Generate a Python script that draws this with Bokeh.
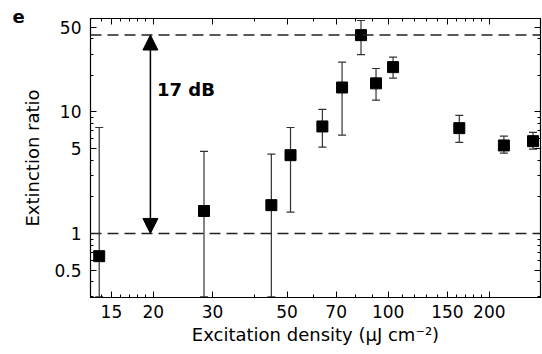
from bokeh.plotting import figure
from bokeh.models import (LogAxis, FixedTicker, Whisker, TeeHead, Span, Arrow,
                          NormalHead, Label, ColumnDataSource, Range1d)
from bokeh.embed import file_html
from bokeh.resources import INLINE

# Data
density = [13.8, 28.3, 44.9, 51.2, 63.7, 72.9, 83.0, 92.0, 103.4, 162.8, 221.0, 269.8]
ratio = [0.65, 1.53, 1.71, 4.41, 7.6, 15.9, 42.9, 17.2, 23.4, 7.36, 5.3, 5.75]
upper = [7.45, 4.73, 4.5, 7.45, 10.5, 25.7, 56.6, 22.8, 28.3, 9.36, 6.32, 6.78]
lower = [0.3, 0.3, 0.3, 1.5, 5.13, 6.45, 29.7, 12.5, 19.0, 5.61, 4.58, 4.94]

x_major = [15, 20, 30, 50, 70, 100, 150, 200]
x_minor = [13, 14, 16, 17, 18, 19, 40, 60, 80, 90, 110, 120, 130, 140, 160, 170, 180, 190, 300]
y_major = [0.5, 1, 5, 10, 50]
y_minor = [0.3, 0.4, 0.6, 0.7, 0.8, 0.9, 2, 3, 4, 6, 7, 8, 9, 20, 30, 40]

ref_low = 1.0
ref_high = 43.0
arrow_x = 19.6
db_label = "17 dB"
db_x, db_y = 20.5, 15.4
panel_label = "e"

FONT = "DejaVu Sans"

src = ColumnDataSource(dict(x=density, y=ratio, up=upper, lo=lower))

p = figure(width=542, height=354, x_axis_type="log", y_axis_type="log",
           x_range=Range1d(13.0, 284.0), y_range=Range1d(0.297, 58.8),
           output_backend="svg", toolbar_location=None,
           min_border_left=90, min_border_right=2, min_border_top=18, min_border_bottom=57)
p.xgrid.visible = False
p.ygrid.visible = False
p.outline_line_color = "black"
p.outline_line_width = 1.2
p.background_fill_color = "white"
p.border_fill_color = "white"

p.title.text = panel_label
p.title.align = "left"
p.title.offset = -78
p.title.standoff = -8
p.title.text_font = FONT
p.title.text_font_size = "18px"
p.title.text_font_style = "bold"
p.title.text_color = "black"
p.title.text_line_height = 0.8

def style_axis(ax, major, minor, labels=True):
    ax.ticker = FixedTicker(ticks=major, minor_ticks=minor)
    ax.major_tick_in = 6
    ax.major_tick_out = 0
    ax.minor_tick_in = 3
    ax.minor_tick_out = 0
    ax.axis_line_color = "black"
    ax.major_tick_line_color = "black"
    ax.minor_tick_line_color = "black"
    ax.major_label_text_font = FONT
    ax.major_label_text_font_size = "17px" if labels else "0px"
    ax.major_label_text_color = "black"
    ax.axis_label_text_font = FONT
    ax.axis_label_text_font_size = "18px"
    ax.axis_label_text_font_style = "normal"
    ax.axis_label_text_color = "black"
    if not labels:
        ax.major_label_standoff = 0
        ax.major_label_text_color = None

style_axis(p.xaxis[0], x_major, x_minor)
style_axis(p.yaxis[0], y_major, y_minor)
p.xaxis[0].axis_label = "Excitation density (μJ cm⁻²)"
p.yaxis[0].axis_label = "Extinction ratio"
p.xaxis[0].major_label_standoff = 7
p.yaxis[0].major_label_standoff = 9
p.xaxis[0].axis_label_standoff = 3
p.yaxis[0].axis_label_standoff = 8

top_ax = LogAxis()
style_axis(top_ax, x_major, x_minor, labels=False)
p.add_layout(top_ax, "above")
right_ax = LogAxis()
style_axis(right_ax, y_major, y_minor, labels=False)
p.add_layout(right_ax, "right")

# reference lines
for v in (ref_low, ref_high):
    p.add_layout(Span(location=v, dimension="width", line_color="#222222",
                      line_width=1.5, line_dash="11 6"))

# error bars
wh = Whisker(source=src, base="x", upper="up", lower="lo", dimension="height",
             line_color="#333333", line_width=1.2,
             upper_head=TeeHead(size=8, line_color="#333333", line_width=1.2),
             lower_head=TeeHead(size=8, line_color="#333333", line_width=1.2))
p.add_layout(wh)

p.scatter("x", "y", source=src, marker="square", size=11, fill_color="black",
          line_color="black")

# double arrow
p.add_layout(Arrow(x_start=arrow_x, y_start=ref_low, x_end=arrow_x, y_end=ref_high,
                   line_color="black", line_width=1.5,
                   start=NormalHead(size=15, fill_color="black", line_color="black"),
                   end=NormalHead(size=15, fill_color="black", line_color="black")))

p.add_layout(Label(x=db_x, y=db_y, text=db_label, text_font=FONT, text_font_size="18px",
                   text_font_style="bold", text_baseline="middle", text_align="left",
                   text_color="black"))

open("out.html", "w").write(file_html(p, INLINE))
